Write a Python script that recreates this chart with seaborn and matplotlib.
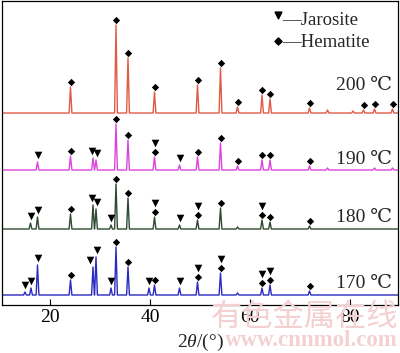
import numpy as np
import pandas as pd
import matplotlib
matplotlib.use("Agg")
import matplotlib.pyplot as plt
import seaborn as sns

# ---------------- data ----------------
series_names = ["200 ℃", "190 ℃", "180 ℃", "170 ℃"]
series_colors = ["#e05a45", "#dd44dd", "#2f4a30", "#2a2ac0"]

# peak positions (2θ, degrees) and heights (a.u.)
pos_200 = [24.1, 33.2, 35.6, 40.9, 49.5, 54.1, 57.5, 62.4, 64.0, 71.9, 75.5, 80.6, 82.7, 84.9, 88.5]
int_200 = [26, 88, 55, 21, 28, 45, 6, 18, 14, 5, 3, 2, 3, 4, 4]

pos_190 = [17.5, 24.1, 28.6, 29.2, 33.2, 35.6, 40.9, 45.9, 49.5, 54.1, 57.5, 62.4, 64.0, 71.9, 75.5, 84.9, 88.5]
int_190 = [8, 14, 12, 10, 46, 30, 13, 5, 13, 27, 4, 10, 10, 4, 2, 2, 2]

pos_180 = [16.1, 17.5, 24.1, 28.6, 29.2, 32.2, 33.2, 35.6, 40.9, 45.9, 49.5, 54.1, 57.5, 62.4, 64.0, 71.9]
int_180 = [6, 12, 15, 24, 20, 4, 45, 31, 12, 4, 9, 21, 2, 9, 7, 3]

pos_170 = [15.0, 16.2, 17.5, 24.1, 28.6, 29.2, 32.2, 33.2, 35.6, 39.8, 40.9, 45.9, 49.5, 54.1, 57.5, 62.4, 64.0, 71.9]
int_170 = [3, 7, 30, 15, 28, 38, 7, 48, 28, 7, 10, 7, 13, 22, 2, 7, 10, 4]

# phase markers (2θ positions where a symbol is drawn)
hem_200 = [24.1, 33.2, 35.6, 40.9, 49.5, 54.1, 57.5, 62.4, 64.0, 71.9, 82.7, 84.9, 88.5]
jar_200 = []
hem_190 = [24.1, 33.2, 35.6, 40.9, 49.5, 54.1, 57.5, 62.4, 64.0, 71.9]
jar_190 = [17.5, 28.4, 29.4, 40.9, 45.9]
hem_180 = [24.1, 33.2, 35.6, 40.9, 49.5, 54.1, 62.4, 64.0, 71.9]
jar_180 = [16.1, 17.5, 28.4, 29.4, 32.2, 40.9, 45.9, 49.5, 62.4]
hem_170 = [24.1, 33.2, 35.6, 40.9, 49.5, 54.1, 62.4, 64.0, 71.9]
jar_170 = [15.0, 16.2, 17.5, 27.9, 29.3, 32.2, 39.8, 45.9, 49.5, 54.1, 62.4, 64.0]

legend_labels = ["—Jarosite", "—Hematite"]
xlabel = r"$2\theta$/(°)"
x_ticks = [20, 40, 60, 80]

# ---------------- layout ----------------
baselines = [192, 135, 76, 10]
label_y = [220, 145, 87, 22]
x_lim = (10.4, 89.6)
y_lim = (0, 304)
half_w = 0.28

sns.set_style("ticks")
plt.rcParams["font.family"] = ["Liberation Serif", "DejaVu Serif", "DejaVu Sans"]
plt.rcParams["mathtext.fontset"] = "custom"
plt.rcParams["mathtext.rm"] = "Liberation Serif"
plt.rcParams["mathtext.it"] = "Liberation Serif:italic"

fig = plt.figure(figsize=(4.0, 3.53), dpi=100)

# watermark (behind everything)
fig.text(304 / 400, 1 - 317 / 353, "有色金属在线", ha="center", va="center", fontsize=22.5,
         color="#f4d0d0", family=["Noto Sans CJK SC", "DejaVu Sans"], zorder=0)
fig.text(311 / 400, 1 - 340 / 353, "www.cnnmol.com", ha="center", va="center", fontsize=16.5,
         color="#f4d0d0", fontweight="bold", zorder=0)

ax = fig.add_axes([2 / 400, 1 - 305 / 353, 396 / 400, 304 / 353])
ax.patch.set_alpha(0)

peaks = [(pos_200, int_200), (pos_190, int_190), (pos_180, int_180), (pos_170, int_170)]
hems = [hem_200, hem_190, hem_180, hem_170]
jars = [jar_200, jar_190, jar_180, jar_170]

rows = []
for name, (pp, ii), base in zip(series_names, peaks, baselines):
    pts = [(x_lim[0], 0.0)]
    for p, h in zip(pp, ii):
        pts += [(p - half_w, 0.0), (p, float(h)), (p + half_w, 0.0)]
    pts.append((x_lim[1], 0.0))
    for x, y in pts:
        rows.append({"x": x, "y": y + base, "series": name})
df = pd.DataFrame(rows)

sns.lineplot(data=df, x="x", y="y", hue="series", palette=dict(zip(series_names, series_colors)),
             sort=False, estimator=None, legend=False, linewidth=1.0, ax=ax)


def peak_height(pp, ii, x):
    k = int(np.argmin(np.abs(np.asarray(pp) - x)))
    return ii[k]


hx, hy, jx, jy = [], [], [], []
for (pp, ii), base, hl, jl in zip(peaks, baselines, hems, jars):
    for x in hl:
        hx.append(x)
        hy.append(base + peak_height(pp, ii, x) + 5.5)
    for x in jl:
        y = base + peak_height(pp, ii, x) + 7
        if any(abs(x - h) < 0.05 for h in hl):
            y = base + peak_height(pp, ii, x) + 5.5 + 9
        jx.append(x)
        jy.append(y)

sns.scatterplot(x=hx, y=hy, marker="D", s=14, color="black", linewidth=0, ax=ax, zorder=5)
sns.scatterplot(x=jx, y=jy, marker="v", s=30, color="black", linewidth=0, ax=ax, zorder=5)

for name, ly in zip(series_names, label_y):
    ax.text(88.4, ly, name, ha="right", va="center", fontsize=14)

# legend
ax.scatter([0.697], [0.954], marker="v", s=24, color="black", transform=ax.transAxes, zorder=6)
ax.scatter([0.697], [0.868], marker="D", s=13, color="black", transform=ax.transAxes, zorder=6)
ax.text(0.708, 0.937, legend_labels[0], transform=ax.transAxes, ha="left", va="center", fontsize=13.5)
ax.text(0.708, 0.865, legend_labels[1], transform=ax.transAxes, ha="left", va="center", fontsize=13.5)

ax.set_xlim(*x_lim)
ax.set_ylim(*y_lim)
ax.set_xticks(x_ticks)
ax.set_xticklabels([str(t) for t in x_ticks])
ax.set_yticks([])
ax.tick_params(axis="x", direction="in", length=4, width=0.8, pad=3, labelsize=14, colors="black")
ax.set_xlabel(xlabel, fontsize=14, labelpad=4)
ax.set_ylabel("")
for s in ax.spines.values():
    s.set_visible(True)
    s.set_linewidth(0.9)
    s.set_color("black")

fig.savefig("out.png", dpi=100)
